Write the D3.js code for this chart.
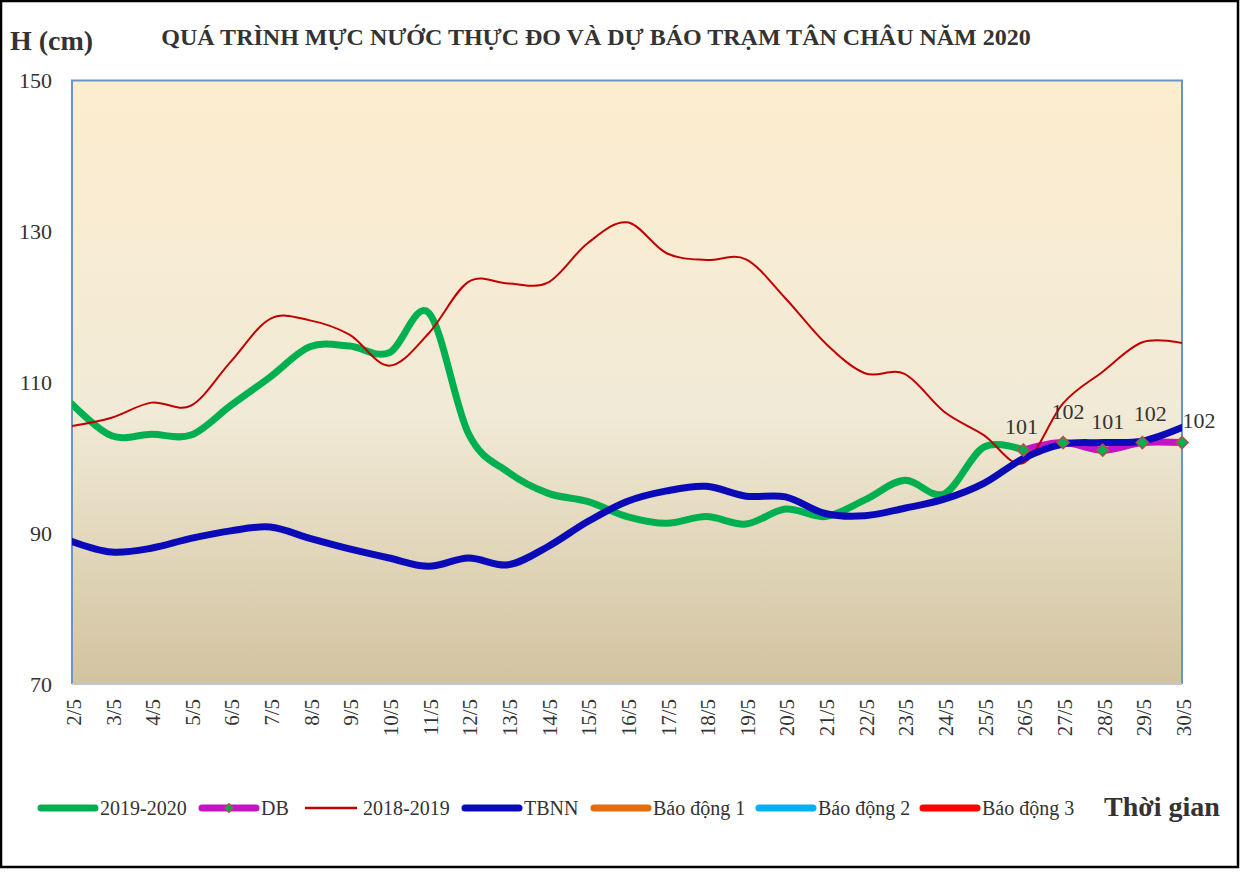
<!DOCTYPE html>
<meta charset="utf-8">
<script src="https://cdn.jsdelivr.net/npm/d3@7"></script>
<style>
    body { margin: 0; background: #fff; }
    text { font-family: "Liberation Serif", "Times New Roman", serif; fill: #333; }
    .title { font-size: 24px; font-weight: bold; }
    .unit { font-size: 28px; font-weight: bold; }
    .y-label { font-size: 22px; }
    .x-label { font-size: 21px; }
    .legend-label { font-size: 20px; }
    .point-label { font-size: 22px; }
</style>
<body>
<script>
    // dates on the x axis
    var days = ["2/5", "3/5", "4/5", "5/5", "6/5", "7/5", "8/5", "9/5", "10/5", "11/5",
        "12/5", "13/5", "14/5", "15/5", "16/5", "17/5", "18/5", "19/5", "20/5", "21/5",
        "22/5", "23/5", "24/5", "25/5", "26/5", "27/5", "28/5", "29/5", "30/5"];

    // measured 2019-2020 (ends at 26/5)
    var s2019 = [107.1, 102.9, 103.1, 103.0, 106.9, 110.7, 114.7, 114.8, 113.9, 119.2,
        103.2, 98.1, 95.3, 94.2, 92.2, 91.3, 92.2, 91.2, 93.2, 92.2,
        94.4, 97.0, 95.2, 101.4, 101.0, null, null, null, null];

    // forecast
    var db = [null, null, null, null, null, null, null, null, null, null,
        null, null, null, null, null, null, null, null, null, null,
        null, null, null, null, 101, 102, 101, 102, 102];

    var s2018 = [104.2, 105.3, 107.3, 106.9, 112.7, 118.4, 118.2, 116.3, 112.2, 116.5,
        123.3, 123.1, 123.2, 128.4, 131.2, 127.1, 126.2, 126.3, 121.1, 115.2,
        111.2, 111.1, 106.1, 103.0, 99.3, 107.2, 111.4, 115.3, 115.2];

    var tbnn = [88.9, 87.5, 88.0, 89.3, 90.3, 90.8, 89.3, 87.9, 86.7, 85.6,
        86.7, 85.8, 88.2, 91.5, 94.2, 95.6, 96.2, 94.9, 94.8, 92.6,
        92.3, 93.3, 94.5, 96.6, 99.9, 101.8, 102.0, 102.2, 104.0];

    var yTicks = [70, 90, 110, 130, 150];

    var legendNames = ["2019-2020", "DB", "2018-2019", "TBNN", "Báo động 1", "Báo động 2", "Báo động 3"];
    var legendColors = ["#00B050", "#C414C4", "#C00000", "#0A0AB8", "#E46C0A", "#00B0F0", "#FF0000"];
    var legendWidths = [7, 7, 2.5, 7, 7, 7, 7];

    var W = 1240, H = 877;
    var plot = { left: 72, top: 80.5, right: 1182, bottom: 684 };

    var svg = d3.select("body").append("svg")
        .attr("width", W)
        .attr("height", H);

    // outer frame
    svg.append("rect")
        .attr("x", 1).attr("y", 1)
        .attr("width", W - 3).attr("height", 866)
        .attr("fill", "#fff")
        .attr("stroke", "#000")
        .attr("stroke-width", 2.5);

    var defs = svg.append("defs");
    var grad = defs.append("linearGradient")
        .attr("id", "bg")
        .attr("x1", 0).attr("y1", 0).attr("x2", 0).attr("y2", 1);
    grad.append("stop").attr("offset", "0%").attr("stop-color", "#FDEDD0");
    grad.append("stop").attr("offset", "55%").attr("stop-color", "#F1EAD6");
    grad.append("stop").attr("offset", "100%").attr("stop-color", "#D2C3A0");

    defs.append("clipPath").attr("id", "clip")
        .append("rect")
        .attr("x", plot.left).attr("y", plot.top)
        .attr("width", plot.right - plot.left).attr("height", plot.bottom - plot.top);

    var x = d3.scalePoint()
        .domain(days)
        .range([plot.left, plot.right]);

    var y = d3.scaleLinear()
        .domain([70, 150])
        .range([plot.bottom, plot.top]);

    svg.append("rect")
        .attr("x", plot.left).attr("y", plot.top)
        .attr("width", plot.right - plot.left).attr("height", plot.bottom - plot.top)
        .attr("fill", "url(#bg)");

    // plot border
    svg.append("path")
        .attr("d", "M" + plot.left + "," + plot.bottom + "V" + plot.top + "H" + plot.right + "V" + plot.bottom)
        .attr("fill", "none")
        .attr("stroke", "#6A93C8")
        .attr("stroke-width", 2);
    svg.append("line")
        .attr("x1", plot.left).attr("x2", plot.right)
        .attr("y1", plot.bottom).attr("y2", plot.bottom)
        .attr("stroke", "#BFC6D0")
        .attr("stroke-width", 2);

    // y axis labels
    var yAxis = svg.append("g")
        .attr("transform", "translate(" + plot.left + ",0)")
        .call(d3.axisLeft(y).tickValues(yTicks).tickSize(0).tickPadding(20));
    yAxis.select(".domain").remove();
    yAxis.selectAll("text")
        .attr("class", "y-label")
        .attr("fill", "#333")
        .style("font-family", null);
    yAxis.attr("font-size", null);

    // x axis labels
    var xAxis = svg.append("g")
        .attr("transform", "translate(0," + plot.bottom + ")")
        .call(d3.axisBottom(x).tickSize(0).tickPadding(0));
    xAxis.select(".domain").remove();
    xAxis.attr("font-size", null);
    xAxis.selectAll("text")
        .attr("class", "x-label")
        .attr("fill", "#333")
        .style("font-family", null)
        .attr("transform", "rotate(-90)")
        .attr("x", -15)
        .attr("y", 1)
        .attr("dy", "0.35em")
        .style("text-anchor", "end");

    var line = d3.line()
        .defined(function (d) { return d != null; })
        .x(function (d, i) { return x(days[i]); })
        .y(function (d) { return y(d); })
        .curve(d3.curveCatmullRom.alpha(0));

    var g = svg.append("g").attr("clip-path", "url(#clip)");

    g.append("path").datum(s2019)
        .attr("d", line)
        .attr("fill", "none")
        .attr("stroke", "#00B050")
        .attr("stroke-width", 7)
        .attr("stroke-linecap", "round");

    g.append("path").datum(db)
        .attr("d", line)
        .attr("fill", "none")
        .attr("stroke", "#C414C4")
        .attr("stroke-width", 7)
        .attr("stroke-linecap", "round");

    g.append("path").datum(s2018)
        .attr("d", line)
        .attr("fill", "none")
        .attr("stroke", "#C00000")
        .attr("stroke-width", 2);

    g.append("path").datum(tbnn)
        .attr("d", line)
        .attr("fill", "none")
        .attr("stroke", "#0A0AB8")
        .attr("stroke-width", 7)
        .attr("stroke-linecap", "round");

    // forecast markers + labels
    var dbPts = db.map(function (d, i) { return { v: d, i: i }; })
        .filter(function (p) { return p.v != null; });

    var diamond = d3.symbol().type(d3.symbolDiamond2).size(95);
    svg.selectAll(".db-mark")
        .data(dbPts)
        .enter().append("path")
        .attr("class", "db-mark")
        .attr("d", diamond)
        .attr("transform", function (p) { return "translate(" + x(days[p.i]) + "," + y(p.v) + ")"; })
        .attr("fill", "#00B050")
        .attr("stroke", "#B0504D")
        .attr("stroke-width", 1.5);

    var labelDx = [-2, 5, 5, 8, 17];
    var labelDy = [-16, -24, -21, -22, -15];
    svg.selectAll(".point-label")
        .data(dbPts)
        .enter().append("text")
        .attr("class", "point-label")
        .attr("x", function (p, k) { return x(days[p.i]) + labelDx[k]; })
        .attr("y", function (p, k) { return y(p.v) + labelDy[k]; })
        .style("text-anchor", "middle")
        .text(function (p) { return d3.format("d")(p.v); });

    // titles
    svg.append("text")
        .attr("class", "title")
        .attr("x", 596)
        .attr("y", 45)
        .style("text-anchor", "middle")
        .text("QUÁ TRÌNH MỰC NƯỚC THỰC ĐO VÀ DỰ BÁO TRẠM  TÂN CHÂU NĂM 2020");

    svg.append("text")
        .attr("class", "unit")
        .attr("x", 10)
        .attr("y", 50)
        .text("H (cm)");

    svg.append("text")
        .attr("class", "unit")
        .attr("x", 1104)
        .attr("y", 816)
        .text("Thời gian");

    // legend
    var legX = [41, 202, 305, 465, 594, 759, 923];
    var legY = 808;
    var leg = svg.selectAll(".legend")
        .data(legendNames)
        .enter().append("g")
        .attr("class", "legend")
        .attr("transform", function (d, i) { return "translate(" + legX[i] + "," + legY + ")"; });

    leg.append("line")
        .attr("x1", 0).attr("x2", function (d, i) { return i == 2 ? 52 : 54; })
        .attr("y1", 0).attr("y2", 0)
        .attr("stroke", function (d, i) { return legendColors[i]; })
        .attr("stroke-width", function (d, i) { return legendWidths[i]; })
        .attr("stroke-linecap", function (d, i) { return i == 2 ? "butt" : "round"; });

    leg.filter(function (d, i) { return i == 1; })
        .append("path")
        .attr("d", d3.symbol().type(d3.symbolDiamond2).size(50))
        .attr("transform", "translate(27,0)")
        .attr("fill", "#00B050")
        .attr("stroke", "#B0504D")
        .attr("stroke-width", 1.2);

    leg.append("text")
        .attr("class", "legend-label")
        .attr("x", function (d, i) { return i == 2 ? 58 : 59; })
        .attr("y", 7)
        .text(String);
</script>
</body>
